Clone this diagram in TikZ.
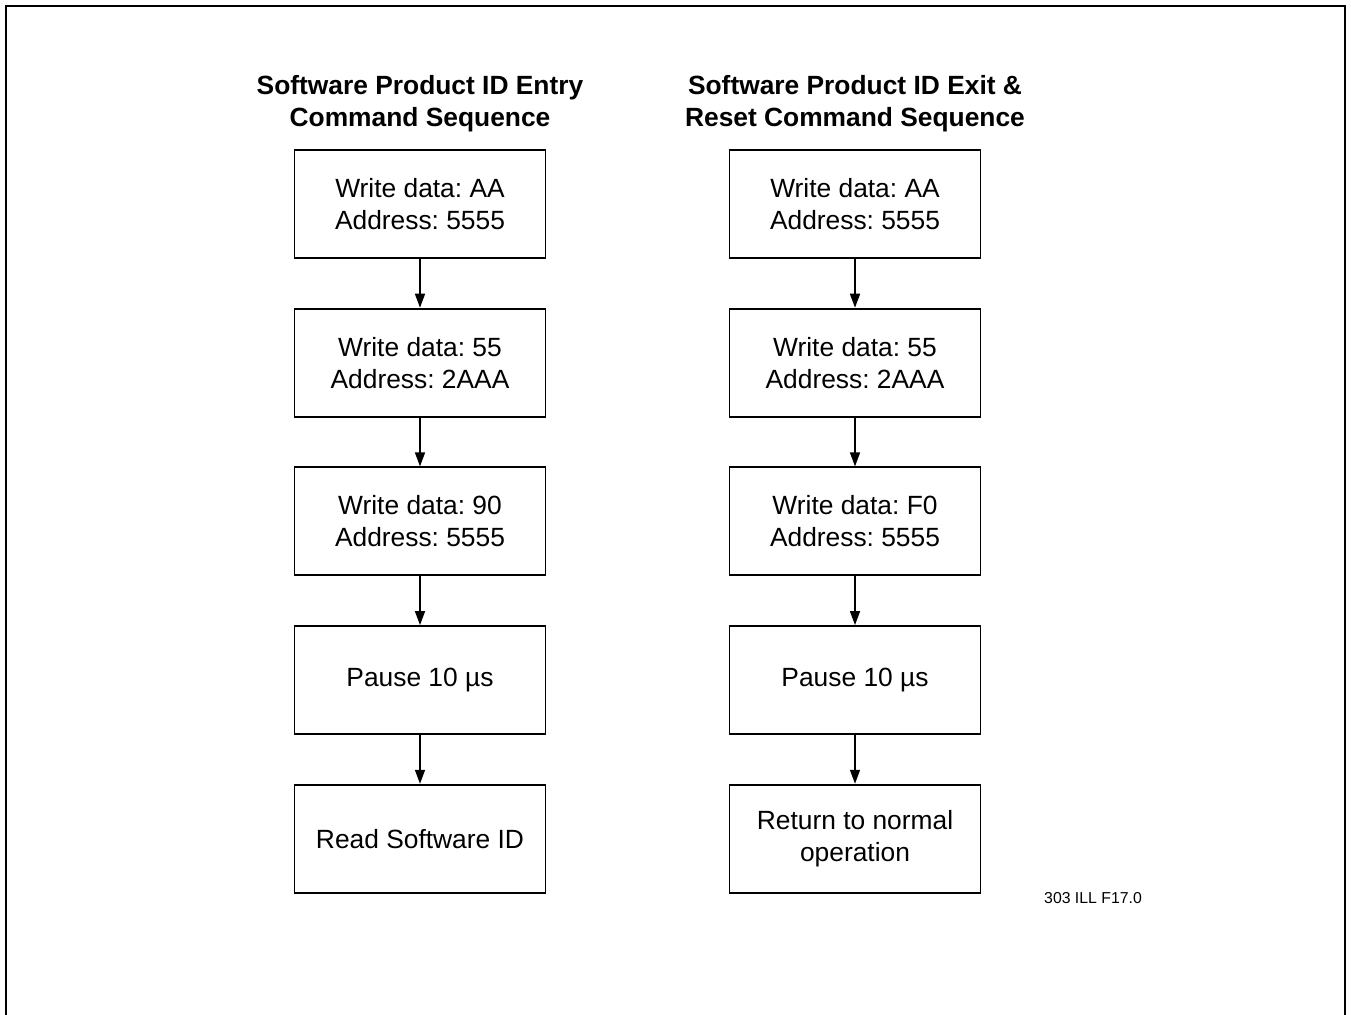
\documentclass[tikz,border=0pt]{standalone}
\usepackage{fontspec}
\setmainfont{Liberation Sans}
\usetikzlibrary{arrows.meta}
\usetikzlibrary{positioning}
\frenchspacing

\begin{document}
\begin{tikzpicture}[>={Triangle[length=2.8mm,width=2mm]},
    cmdbox/.style = {draw, line width=1.1pt, minimum width=5.02cm, minimum height=2.16cm,
                     align=center, inner sep=0pt, font=\fontsize{15}{18.1}\selectfont},
    heading/.style = {align=center, font=\fontsize{15}{18.1}\selectfont\bfseries},
    node distance = 0.975cm]

    \useasboundingbox (0,0) rectangle (27.02,-20.3);
    \draw[line width=1.1pt] (0.12,-20.3) |- (26.9,-0.12) -- (26.9,-20.3);

    % entry sequence
    \node[heading] (entry) at (8.4,-2.08) {Software Product ID Entry\\Command Sequence};
    \node[cmdbox] (e1) at (8.4,-4.08) {Write data: AA\\Address: 5555};
    \node[cmdbox, below=of e1] (e2) {Write data: 55\\Address: 2AAA};
    \node[cmdbox, below=of e2] (e3) {Write data: 90\\Address: 5555};
    \node[cmdbox, below=of e3] (e4) {Pause 10 µs};
    \node[cmdbox, below=of e4] (e5) {Read Software ID};

    % exit and reset sequence
    \node[heading] (exit) at (17.1,-2.08) {Software Product ID Exit \&\\Reset Command Sequence};
    \node[cmdbox] (x1) at (17.1,-4.08) {Write data: AA\\Address: 5555};
    \node[cmdbox, below=of x1] (x2) {Write data: 55\\Address: 2AAA};
    \node[cmdbox, below=of x2] (x3) {Write data: F0\\Address: 5555};
    \node[cmdbox, below=of x3] (x4) {Pause 10 µs};
    \node[cmdbox, below=of x4] (x5) {Return to normal\\operation};

    \foreach \a/\b in {e1/e2,e2/e3,e3/e4,e4/e5,x1/x2,x2/x3,x3/x4,x4/x5}
        \draw[->, line width=0.9pt] (\a) -- (\b);

    \node[anchor=base west, font=\fontsize{9}{11}\selectfont] (figid) at (20.76,-18.06) {303 ILL F17.0};
\end{tikzpicture}
\end{document}
